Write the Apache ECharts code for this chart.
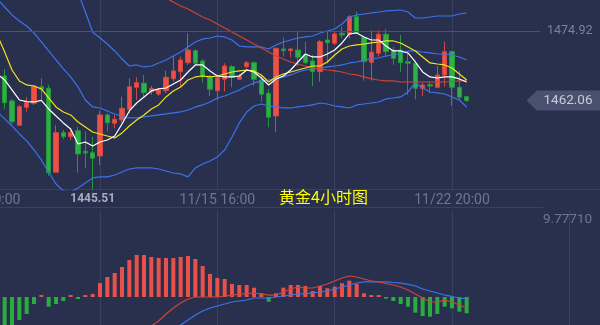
<!DOCTYPE html>
<html><head><meta charset="utf-8">
<script src="https://cdn.jsdelivr.net/npm/echarts/dist/echarts.min.js"></script>
<style>html,body{margin:0;padding:0;background:#29304e;}#c{width:600px;height:325px;}</style>
</head><body><div id="c"></div>
<script>
// ---------- DATA ----------
const title = '黄金4小时图';
const tickCat = [0, 32, 64];
const tickText = ['11/08 20:00', '11/15 16:00', '11/22 20:00'];
const refPrice = 1474.92;
const macdTopLabel = '9.77710';

// 4h candles, j0..j63
const opens = [
 1466.60,1461.98,1457.48,1460.81,1461.55,1464.62,1464.32,1448.79,1456.11,1455.37,
 1456.48,1452.67,1452.41,1451.80,1459.39,1457.85,1458.46,1460.44,1464.51,1465.25,
 1463.70,1463.27,1463.88,1466.10,1467.40,1469.06,1471.28,1469.38,1466.29,1463.88,
 1465.99,1468.32,1465.99,1468.32,1469.06,1465.86,1463.40,1459.20,1471.59,1471.28,
 1471.41,1470.49,1469.38,1467.40,1473.26,1472.65,1474.50,1474.31,1477.57,1473.76,
 1469.13,1470.80,1474.31,1471.41,1471.41,1469.25,1468.95,1464.32,1464.99,1464.51,
 1466.78,1471.10,1464.51,1462.77];
const closes = [
 1461.66,1458.14,1460.92,1461.66,1464.75,1464.14,1448.71,1456.11,1455.37,1456.19,
 1452.17,1452.36,1451.37,1459.39,1457.96,1458.59,1460.62,1464.62,1465.36,1463.51,
 1464.32,1464.01,1466.36,1467.53,1469.56,1471.41,1468.95,1466.47,1464.14,1466.29,
 1468.45,1466.36,1466.60,1469.06,1465.99,1463.21,1458.96,1471.72,1471.28,1471.59,
 1470.06,1469.06,1467.40,1472.95,1472.76,1474.37,1474.19,1477.57,1474.61,1469.25,
 1470.98,1474.31,1471.10,1469.87,1469.06,1468.95,1464.32,1464.93,1464.75,1466.78,
 1471.10,1464.51,1462.66,1462.06];
const lows = [
 1460.44,1457.60,1457.35,1459.98,1461.24,1462.16,1448.10,1448.66,1454.89,1454.76,
 1448.71,1449.52,1445.51,1450.13,1456.30,1456.92,1457.85,1459.70,1462.16,1462.77,
 1463.09,1462.90,1463.40,1465.55,1464.51,1468.64,1468.64,1465.36,1462.90,1462.16,
 1463.70,1464.51,1465.86,1468.02,1464.75,1461.85,1457.11,1456.30,1470.17,1470.06,
 1468.32,1468.82,1464.75,1465.55,1468.95,1472.33,1473.57,1473.57,1474.50,1465.73,
 1465.73,1470.17,1470.17,1468.64,1467.40,1463.09,1462.29,1462.90,1463.40,1464.32,
 1464.62,1461.05,1462.16,1461.79];
const highs = [
 1467.89,1462.30,1461.24,1462.66,1464.93,1466.17,1464.93,1457.48,1456.61,1456.61,
 1457.22,1456.30,1455.37,1460.13,1459.70,1459.39,1462.77,1466.17,1466.36,1466.78,
 1464.75,1464.38,1467.58,1470.30,1470.17,1474.50,1471.54,1469.69,1466.78,1466.78,
 1468.95,1468.64,1466.97,1469.38,1469.25,1466.78,1464.14,1471.84,1473.69,1471.72,
 1474.93,1472.95,1470.49,1473.26,1474.80,1474.80,1475.72,1477.89,1478.50,1473.87,
 1475.11,1475.11,1475.24,1472.02,1474.19,1471.10,1469.25,1465.25,1465.55,1468.45,
 1472.95,1471.28,1467.58,1462.95];

// overlay lines, j-3..j63 (67 values)
const ma5 = [1469.19,1468.08,1466.97,
 1465.86,1464.01,1462.16,1461.85,1461.79,1462.10,1460.50,1459.20,1457.91,1456.80,
 1454.02,1454.39,1453.65,1454.39,1454.76,1455.50,1457.72,1460.13,1461.60,1462.72,
 1463.83,1464.20,1464.38,1465.12,1465.86,1467.34,1468.64,1468.64,1467.53,1466.60,
 1466.42,1466.42,1466.60,1467.71,1467.34,1466.23,1464.94,1466.05,1466.60,1467.71,
 1469.19,1470.67,1470.12,1470.12,1470.67,1471.41,1472.71,1474.37,1474.56,1473.82,
 1473.26,1473.26,1472.15,1471.23,1471.23,1470.86,1469.19,1467.34,1466.42,1466.23,
 1466.42,1466.42,1466.05,1465.49];
const ma10 = [1478.81,1476.59,1474.19,
 1471.04,1467.71,1465.68,1464.94,1464.75,1464.20,1462.53,1460.87,1459.94,1459.39,
 1458.09,1457.17,1456.24,1455.87,1455.50,1455.13,1456.06,1457.35,1458.46,1459.39,
 1460.50,1461.24,1462.72,1463.83,1464.57,1465.86,1466.42,1466.60,1466.42,1466.60,
 1466.97,1467.34,1467.53,1467.71,1467.53,1466.79,1465.49,1466.42,1466.97,1467.34,
 1467.71,1468.08,1468.45,1468.45,1469.19,1470.49,1471.60,1472.15,1472.34,1472.52,
 1472.71,1472.89,1473.08,1473.08,1472.71,1471.97,1471.23,1470.12,1469.01,1468.82,
 1468.64,1468.08,1466.97,1465.86];
const maLong = [null,null,null,
 null,null,null,null,null,null,null,null,null,null,
 null,null,null,null,null,1486.21,1485.47,1484.73,1483.99,1483.25,
 1482.51,1481.77,1481.03,1480.29,1479.55,1478.99,1478.26,1477.51,1476.96,1476.22,
 1475.48,1474.74,1474.00,1473.26,1472.52,1471.78,1471.04,1470.30,1469.75,1469.19,
 1468.82,1468.45,1468.08,1467.90,1467.71,1467.53,1467.34,1466.97,1466.79,1466.42,
 1466.05,1465.86,1465.68,1465.68,1465.49,1465.49,1465.49,1465.49,1465.49,1465.49,
 1465.49,1465.58,1465.68,1465.68];
const bollUp = [null,null,null,
 null,null,null,null,null,null,null,null,null,1485.29,
 1482.14,1478.44,1474.74,1473.63,1472.52,1471.23,1469.75,1468.45,1468.64,1468.27,
 1468.45,1469.01,1469.56,1470.30,1471.04,1471.97,1472.89,1473.45,1473.63,1474.00,
 1473.82,1473.26,1472.15,1471.97,1471.97,1471.97,1471.60,1472.34,1472.89,1473.26,
 1473.63,1473.82,1474.00,1474.56,1474.93,1475.30,1476.22,1477.51,1477.89,1478.07,
 1478.26,1478.44,1478.63,1478.72,1478.81,1478.44,1477.33,1477.33,1477.51,1477.70,
 1477.70,1477.70,1478.07,1478.26];
const bollMid = [1482.70,1481.77,1480.85,
 1479.37,1477.89,1476.78,1475.85,1474.56,1472.89,1471.23,1469.56,1467.90,1466.42,
 1464.57,1462.16,1460.87,1460.68,1460.13,1459.57,1459.20,1458.83,1458.83,1459.02,
 1459.20,1459.39,1459.57,1459.76,1459.94,1460.31,1460.87,1461.24,1461.79,1462.53,
 1462.90,1463.46,1464.01,1464.75,1465.31,1465.68,1465.86,1466.05,1466.42,1466.79,
 1467.34,1467.71,1467.90,1468.08,1468.27,1468.45,1468.64,1469.01,1469.19,1469.56,
 1469.75,1469.93,1470.30,1470.49,1470.86,1471.23,1471.23,1471.04,1470.86,1470.67,
 1470.67,1470.49,1470.12,1469.56];
const bollLow = [1462.16,1461.24,1459.94,
 1458.65,1457.35,1455.87,1454.58,1452.91,1451.06,1448.84,1446.62,1445.33,1445.14,
 1445.88,1446.81,1447.73,1447.92,1447.92,1448.28,1448.84,1449.39,1449.58,1449.58,
 1449.58,1449.39,1449.02,1448.65,1448.47,1447.92,1449.58,1450.32,1450.87,1451.62,
 1452.91,1455.32,1457.91,1459.94,1461.05,1461.42,1461.05,1460.87,1460.68,1460.68,
 1460.87,1461.05,1461.24,1461.60,1461.42,1461.05,1460.87,1460.68,1461.24,1461.42,
 1461.60,1461.79,1462.35,1462.53,1462.72,1463.64,1465.31,1464.38,1463.64,1463.46,
 1463.27,1462.72,1462.16,1460.87];

// MACD panel, j0..j63
const macdHist = [
 -3.60,-3.37,-2.59,-1.91,-0.79,0.22,-1.09,-0.79,-0.45,0.22,
 -0.22,0.22,0.34,1.57,2.25,2.70,3.37,4.16,4.72,4.72,
 4.50,4.38,4.38,4.38,4.50,4.61,4.27,3.48,2.59,2.14,
 2.02,1.46,1.35,1.35,1.05,0.42,-0.53,0.42,1.05,1.35,
 1.35,1.24,0.67,1.24,0.98,1.16,1.54,1.83,1.46,0.42,
 0.22,0.22,-0.19,-0.45,-0.79,-1.09,-1.76,-2.14,-2.21,-1.91,
 -1.09,-1.27,-1.65,-1.83];
const macdDif = [
 null,null,null,null,null,null,null,null,null,null,
 null,null,null,null,null,null,null,null,null,-3.80,
 -3.26,-2.70,-1.91,-1.24,-0.67,-0.22,0,0,0,0,
 0.11,0.22,0.34,0.39,0.45,0.34,0.22,0.22,0.56,0.90,
 1.12,1.01,1.01,1.24,1.46,1.80,2.14,2.36,2.25,2.02,
 1.80,1.69,1.52,1.35,1.12,0.79,0.34,-0.11,-0.56,-0.56,
 -0.34,-0.56,-0.90,-1.24];
const macdDea = [
 null,null,null,null,null,null,null,null,null,null,
 null,null,null,null,null,null,null,null,null,null,
 null,null,-4.30,-3.71,-3.15,-2.59,-2.02,-1.57,-1.24,-1.01,
 -0.79,-0.56,-0.45,-0.34,-0.11,-0.11,-0.11,0,0.11,0.22,
 0.34,0.39,0.45,0.56,0.67,0.90,1.12,1.35,1.57,1.69,
 1.69,1.69,1.69,1.63,1.57,1.41,1.24,0.90,0.67,0.45,
 0.22,0.06,-0.11,-0.22];

// ---------- BUILD ----------
const LEAD = 3, N = opens.length;
const MAIN_CATS = LEAD + N + 10, SUB_CATS = LEAD + N + 18;
const STEP = 22 / 3;
const cats = n => Array.from({length: n}, (_, i) => 'c' + i);
const fill = (arr, lead, total) => {
  const out = new Array(lead).fill(null).concat(arr);
  while (out.length < total) out.push(null);
  return out.map(v => v === null ? '-' : v);
};
const candleData = fill(opens.map((o, i) => [o, closes[i], lows[i], highs[i]]), LEAD, MAIN_CATS)
  .map(v => v === '-' ? ['-', '-', '-', '-'] : v);

const RED = '#ec5148', RED_B = '#d2473f', GREEN = '#2cb146', GREEN_B = '#25973b';
const BLUE = '#3b73ee', GRIDC = '#394161', TXT = '#6f7691';

const lineS = (name, data, color, xi, yi, w) => ({
  name, type: 'line', xAxisIndex: xi, yAxisIndex: yi, data, showSymbol: false, symbol: 'none',
  lineStyle: {color, width: w || 1.2}, silent: true, z: 3
});

const mainW = (MAIN_CATS - 1) * STEP, subW = (SUB_CATS - 1) * STEP;
const gridLeft = 4.667 - LEAD * STEP;

const chart = echarts.init(document.getElementById('c'));
chart.setOption({
  animation: false,
  backgroundColor: '#29304e',
  title: {text: title, left: 279, top: 189, padding: 0,
    textStyle: {color: '#ffff00', fontSize: 16, fontWeight: 'normal', fontFamily: 'Noto Sans CJK SC'}},
  grid: [
    {left: gridLeft, top: 0, width: mainW, height: 190, containLabel: false, outerBoundsMode: 'none'},
    {left: gridLeft, top: 210, width: subW, height: 115, containLabel: false, outerBoundsMode: 'none'}
  ],
  xAxis: [
    {gridIndex: 0, type: 'category', data: cats(MAIN_CATS), boundaryGap: false,
     axisLine: {show: false}, axisTick: {show: false},
     axisLabel: {interval: i => tickCat.includes(i), formatter: (v, i) => tickText[tickCat.indexOf(i)] || '',
       color: TXT, fontSize: 14, fontFamily: 'Roboto', margin: 3, hideOverlap: false},
     splitLine: {show: true, interval: i => i % 16 === 0, lineStyle: {color: GRIDC, width: 1}}},
    {gridIndex: 1, type: 'category', data: cats(SUB_CATS), boundaryGap: false,
     axisLine: {show: false}, axisTick: {show: false}, axisLabel: {show: false},
     splitLine: {show: true, interval: i => i % 16 === 0, lineStyle: {color: GRIDC, width: 1}}}
  ],
  yAxis: [
    {gridIndex: 0, type: 'value', min: 1445.50, max: 1480.66, show: false},
    {gridIndex: 1, type: 'value', min: -3.147, max: 9.7771, show: false}
  ],
  series: [
    {type: 'candlestick', xAxisIndex: 0, yAxisIndex: 0, data: candleData, barWidth: 5,
     itemStyle: {color: RED, color0: GREEN, borderColor: RED_B, borderColor0: GREEN_B, borderWidth: 1},
     markLine: {silent: true, symbol: 'none', data: [{yAxis: refPrice}],
       lineStyle: {color: '#4b5373', type: 'solid', width: 1},
       label: {position: 'end', formatter: refPrice.toFixed(2), color: '#7b8199', fontSize: 12.5, fontFamily: 'Roboto', distance: 7}}},
    lineS('BOLL_UP', fill(bollUp, 0, MAIN_CATS), BLUE, 0, 0),
    lineS('BOLL_MID', fill(bollMid, 0, MAIN_CATS), BLUE, 0, 0),
    lineS('BOLL_LOW', fill(bollLow, 0, MAIN_CATS), BLUE, 0, 0),
    lineS('MA_LONG', fill(maLong, 0, MAIN_CATS), '#d0432f', 0, 0),
    lineS('MA10', fill(ma10, 0, MAIN_CATS), '#f3e21c', 0, 0),
    lineS('MA5', fill(ma5, 0, MAIN_CATS), '#ffffff', 0, 0),
    {type: 'bar', xAxisIndex: 1, yAxisIndex: 1, data: fill(macdHist, LEAD, SUB_CATS), barWidth: 4,
     itemStyle: {color: p => p.value >= 0 ? '#e8514a' : '#2aac43'}, silent: true},
    lineS('DEA', fill(macdDea, LEAD, SUB_CATS), BLUE, 1, 1),
    lineS('DIF', fill(macdDif, LEAD, SUB_CATS), '#cc4636', 1, 1)
  ]
});

// annotations positioned through the chart's own scales
const last = closes[N - 1];
const py = chart.convertToPixel({gridIndex: 0}, [0, last])[1];
const lowVal = Math.min(...lows);
const lowX = chart.convertToPixel({gridIndex: 0}, [LEAD + lows.indexOf(lowVal), lowVal])[0];
const subTop = chart.convertToPixel({gridIndex: 1}, [0, 9.7771])[1];
const rightX = gridLeft + mainW;
chart.setOption({
  graphic: [
    {type: 'line', shape: {x1: 0, y1: 189.5, x2: 600, y2: 189.5}, style: {stroke: GRIDC, lineWidth: 1}, silent: true},
    {type: 'line', shape: {x1: 0, y1: 207.5, x2: rightX + 3, y2: 207.5}, style: {stroke: GRIDC, lineWidth: 1}, silent: true},
    {type: 'polygon', shape: {points: [[526.5, py], [537, py - 10], [600, py - 10], [600, py + 10], [537, py + 10]]},
     style: {fill: '#4a5170'}, silent: true},
    {type: 'text', x: 568, y: py, style: {text: last.toFixed(2), fill: '#c8ccd8', font: '13.5px Roboto', textAlign: 'center', textVerticalAlign: 'middle'}, silent: true},
    {type: 'text', x: lowX, y: 198.5, style: {text: lowVal.toFixed(2), fill: '#a9adbb', font: 'bold 12px Roboto', textAlign: 'center', textVerticalAlign: 'middle'}, silent: true},
    {type: 'text', x: rightX + 3, y: subTop + 10, style: {text: macdTopLabel, fill: '#6f7691', font: '13.5px Roboto', textAlign: 'left', textVerticalAlign: 'middle'}, silent: true}
  ]
});
</script></body></html>
